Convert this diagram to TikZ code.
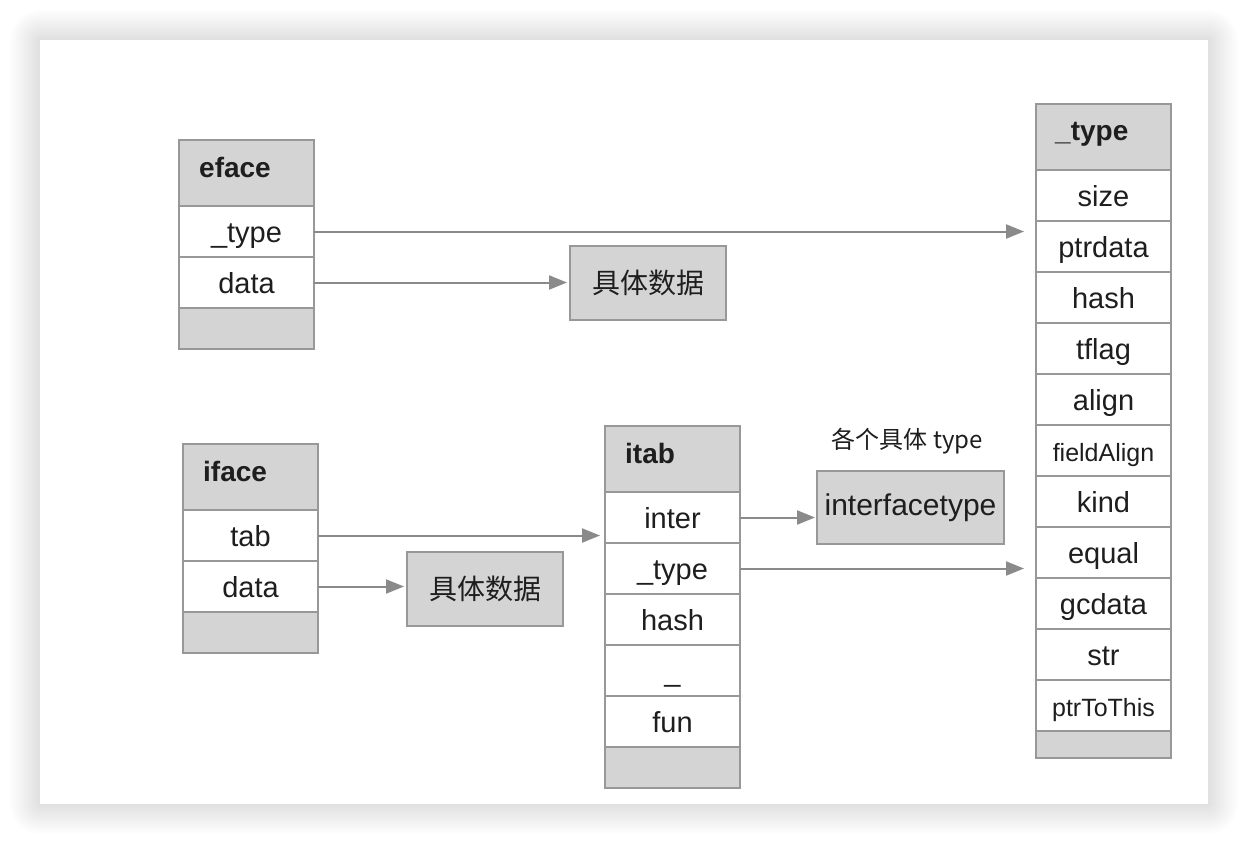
\documentclass[tikz,border=0pt]{standalone}
\usepackage{fontspec}
\setmainfont{Liberation Sans}
\newfontfamily\cjk{Noto Sans CJK SC}
\usetikzlibrary{arrows.meta,calc,positioning}

\definecolor{headgray}{RGB}{212,212,212}
\definecolor{linegray}{RGB}{152,152,152}
\definecolor{arrowgray}{RGB}{138,138,138}
\definecolor{inkgray}{RGB}{30,30,30}

\newcommand{\rowfont}{\fontsize{29}{33}\selectfont}
\newcommand{\smallrow}{\fontsize{25}{29}\selectfont}

\tikzset{
	cell/.style={draw=linegray,line width=1.8pt,fill=white,minimum width=135pt,minimum height=51pt,inner sep=0pt,outer sep=0pt,text height=24pt,text depth=3pt,text=inkgray,font=\rowfont},
	headcell/.style={cell,fill=headgray,minimum height=66pt},
	footcell/.style={cell,fill=headgray,minimum height=41pt},
	headtext/.style={anchor=base west,inner sep=0pt,text=inkgray,font=\fontsize{28}{32}\selectfont\bfseries},
	valbox/.style={draw=linegray,line width=1.8pt,fill=headgray,inner sep=0pt,outer sep=0pt,text=inkgray},
	ptr/.style={draw=arrowgray,line width=2pt,-{Triangle[length=18pt,width=14pt]}}
}

\begin{document}
\begin{tikzpicture}[x=1pt,y=-1pt]
	\useasboundingbox (0,0) rectangle (1248,844);
	% card and shadow
	\fill[white] (0,0) rectangle (1248,844);
	\foreach \d in {2,4,...,30}{
			\fill[black,opacity=0.006,rounded corners=\d pt] (40-\d,40-\d) rectangle (1208+\d,804+\d);
		}
	\fill[white] (40,40) rectangle (1208,804);

	% eface
	\node[headcell,anchor=north west] (ef-head) at (179,140) {};
	\node[headtext] (ef-name) at ($(ef-head.north west)+(20,37)$) {eface};
	\node[cell,anchor=north] (ef-type) at (ef-head.south) {\_type};
	\node[cell,anchor=north] (ef-data) at (ef-type.south) {data};
	\node[footcell,anchor=north] (ef-foot) at (ef-data.south) {};

	% iface
	\node[headcell,anchor=north west] (if-head) at (183,444) {};
	\node[headtext] (if-name) at ($(if-head.north west)+(20,37)$) {iface};
	\node[cell,anchor=north] (if-tab) at (if-head.south) {tab};
	\node[cell,anchor=north] (if-data) at (if-tab.south) {data};
	\node[footcell,anchor=north] (if-foot) at (if-data.south) {};

	% itab
	\node[headcell,anchor=north west] (it-head) at (605,426) {};
	\node[headtext] (it-name) at ($(it-head.north west)+(20,37)$) {itab};
	\node[cell,anchor=north] (it-inter) at (it-head.south) {inter};
	\node[cell,anchor=north] (it-type) at (it-inter.south) {\_type};
	\node[cell,anchor=north] (it-hash) at (it-type.south) {hash};
	\node[cell,anchor=north] (it-pad) at (it-hash.south) {\_};
	\node[cell,anchor=north] (it-fun) at (it-pad.south) {fun};
	\node[footcell,anchor=north] (it-foot) at (it-fun.south) {};

	% _type
	\node[headcell,anchor=north west] (ty-head) at (1036,104) {};
	\node[headtext] (ty-name) at ($(ty-head.north west)+(19,36)$) {\_type};
	\coordinate (ty-0) at (ty-head.south);
	\foreach \lbl [count=\i, evaluate=\i as \j using int(\i-1)] in {size,ptrdata,hash,tflag,align,{\smallrow fieldAlign},kind,equal,gcdata,str,{\smallrow ptrToThis}}{
			\node[cell,anchor=north] (ty-\i) at (ty-\j.south) {\lbl};
		}
	\node[footcell,anchor=north,minimum height=26pt] (ty-foot) at (ty-11.south) {};

	% data boxes
	\node[valbox,anchor=north west,minimum width=156pt,minimum height=74pt,font=\cjk\fontsize{28}{32}\selectfont] (ef-val) at (570,246) {具体数据};
	\node[valbox,anchor=north west,minimum width=156pt,minimum height=74pt,font=\cjk\fontsize{28}{32}\selectfont] (if-val) at (407,552) {具体数据};
	\node[valbox,anchor=north west,minimum width=187pt,minimum height=73pt,font=\fontsize{30}{34}\selectfont] (it-itype) at (817,471) {interfacetype};
	\node[text=inkgray,font=\cjk\fontsize{24}{28}\selectfont] (it-note) at ($(it-itype.north)+(-3,-30)$) {各个具体 type};

	% pointers
	\draw[ptr,shorten >=12pt] (ef-type.east) -- (ef-type.east -| ty-head.west);
	\draw[ptr,shorten >=3pt] (ef-data.east) -- (ef-data.east -| ef-val.west);
	\draw[ptr,shorten >=5pt] (if-tab.east) -- (if-tab.east -| it-head.west);
	\draw[ptr,shorten >=3pt] (if-data.east) -- (if-data.east -| if-val.west);
	\draw[ptr,shorten >=2pt] (it-inter.east) -- (it-inter.east -| it-itype.west);
	\draw[ptr,shorten >=12pt] (it-type.east) -- (it-type.east -| ty-head.west);
\end{tikzpicture}
\end{document}
